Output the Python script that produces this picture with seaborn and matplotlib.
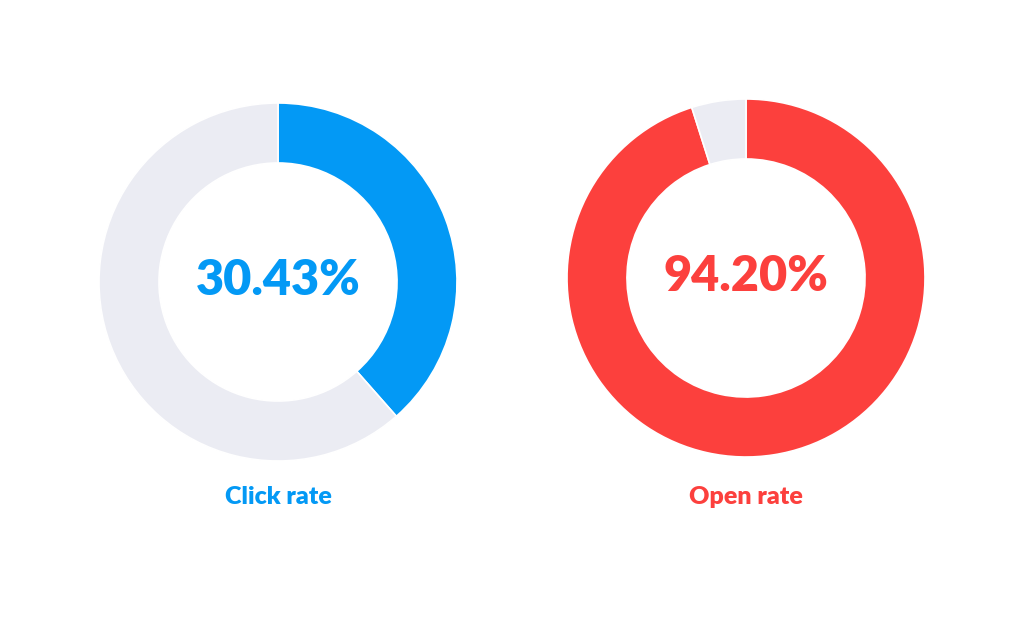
import seaborn as sns
import matplotlib.pyplot as plt

sns.set_theme(style="white")
plt.rcParams['font.family'] = ['Lato', 'DejaVu Sans']

# rates as printed, and arc shares as drawn in the picture
metrics = ["Click rate", "Open rate"]
rate_labels = ["30.43%", "94.20%"]
arc_shares = [38.5, 95.1]
colors = ["#0399f5", "#fc403d"]
track = "#ebecf3"

# donut centres in pixels (x, y from top), radius in pixels
centres = [(278, 282), (746, 278)]
radius_px = 179
W, H = 1024, 641

fig = plt.figure(figsize=(W / 100, H / 100), dpi=100)

for name, lab, share, col, (cx, cy) in zip(metrics, rate_labels, arc_shares, colors, centres):
    ax = fig.add_axes([(cx - radius_px) / W, (H - cy - radius_px) / H,
                       2 * radius_px / W, 2 * radius_px / H])
    ax.pie([share, 100 - share], colors=[col, track], startangle=90, counterclock=False,
           radius=1, wedgeprops=dict(width=0.335, edgecolor="white", linewidth=1.2))
    ax.set_xlim(-1, 1)
    ax.set_ylim(-1, 1)
    ax.axis("off")
    ax.text(0, 0.01, lab, ha="center", va="center", fontsize=35, fontweight="heavy", color=col)
    fig.text(cx / W, (H - 497) / H, name, ha="center", va="center",
             fontsize=18, fontweight="heavy", color=col)

fig.savefig("out.png", dpi=100, facecolor="white")
